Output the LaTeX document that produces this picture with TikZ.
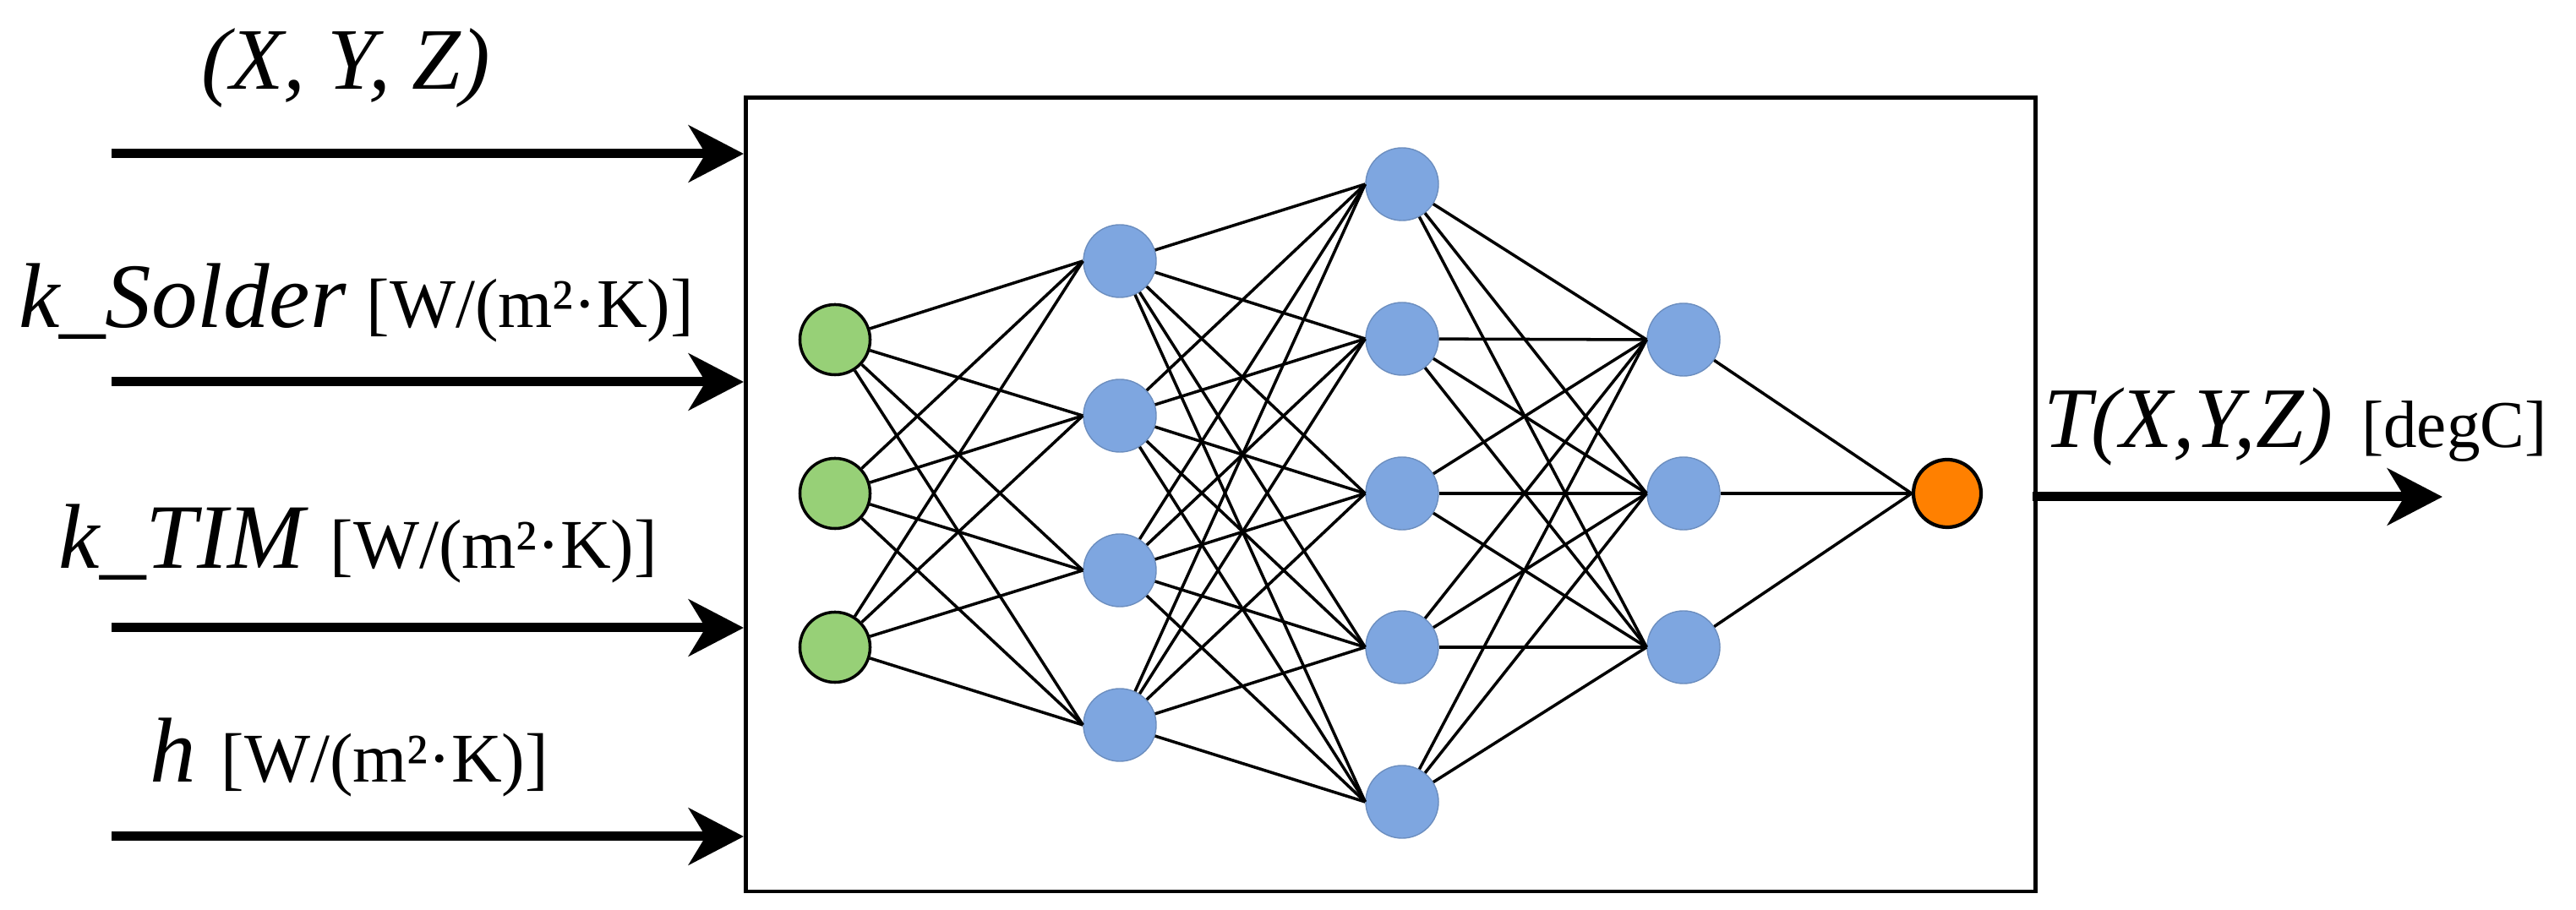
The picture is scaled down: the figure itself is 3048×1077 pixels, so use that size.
\documentclass[tikz,border=0pt]{standalone}
\usepackage{fontspec}
\setmainfont{Liberation Serif}
\usetikzlibrary{arrows.meta}
\definecolor{bluefill}{HTML}{7EA6E0}
\definecolor{bluedraw}{HTML}{6C8EBF}
\definecolor{greenfill}{HTML}{97D077}
\definecolor{orangefill}{HTML}{FF8000}
\newcommand{\bigit}{\fontsize{31pt}{31pt}\selectfont\itshape}
\newcommand{\unitfont}{\fontsize{23.5pt}{24pt}\selectfont\upshape}
\begin{document}
\begin{tikzpicture}[x=0.01cm,y=-0.01cm,
  inarrow/.style={line width=0.11cm,-{Stealth[length=0.65cm,width=0.67cm,inset=0.2cm]}},
  bluenode/.style={circle,fill=bluefill,draw=bluedraw,line width=0.4pt,minimum size=0.86cm,inner sep=0},
  greennode/.style={circle,fill=greenfill,draw=black,line width=1pt,minimum size=0.83cm,inner sep=0},
  outnode/.style={circle,fill=orangefill,draw=black,line width=1.2pt,minimum size=0.80cm,inner sep=0},
  link/.style={line width=1pt,black},
  lbl/.style={anchor=base west,inner sep=0,outer sep=0}]
\useasboundingbox (0,0) rectangle (3048,1077);
% box
\node[draw=black,line width=1.4pt,inner sep=0,minimum width=15.25cm,minimum height=9.39cm,anchor=north west] (box) at (880,113) {};
% arrow end coordinates
\coordinate (s1) at (132,182); \coordinate (e1) at (880,182);
\coordinate (s2) at (132,452); \coordinate (e2) at (880,452);
\coordinate (s3) at (132,743); \coordinate (e3) at (880,743);
\coordinate (s4) at (132,990); \coordinate (e4) at (880,990);
\coordinate (os) at (2405,588); \coordinate (oe) at (2890,588);
\draw[inarrow] (s1) -- (e1);
\draw[inarrow] (s2) -- (e2);
\draw[inarrow] (s3) -- (e3);
\draw[inarrow] (s4) -- (e4);
\draw[inarrow] (os) -- (oe);
% labels
\node[lbl] (t1) at (238,106) {\fontsize{29.5pt}{30pt}\selectfont\itshape (X, Y, Z)};
\node[lbl] (t2) at (22,388) {{\bigit k\_Solder}\hspace{0.24cm}{\unitfont [W/(m²·K)]}};
\node[lbl] (t3) at (70,673) {{\bigit k\_TIM}\hspace{0.30cm}{\unitfont [W/(m²·K)]}};
\node[lbl] (t4) at (177,926) {{\bigit h}\hspace{0.30cm}{\unitfont [W/(m²·K)]}};
\node[lbl] (t5) at (2418,530) {{\fontsize{29pt}{29pt}\selectfont\itshape T(X,Y,Z)}\hspace{0.34cm}{\fontsize{22.5pt}{23pt}\selectfont [degC]}};
% nodes
\node[greennode] (a1) at (988,402) {};
\node[greennode] (a2) at (988,584) {};
\node[greennode] (a3) at (988,766) {};
\node[bluenode] (b1) at (1325,309) {};
\node[bluenode] (b2) at (1325,492) {};
\node[bluenode] (b3) at (1325,675) {};
\node[bluenode] (b4) at (1325,858) {};
\node[bluenode] (c1) at (1659,218) {};
\node[bluenode] (c2) at (1659,401) {};
\node[bluenode] (c3) at (1659,584) {};
\node[bluenode] (c4) at (1659,766) {};
\node[bluenode] (c5) at (1659,949) {};
\node[bluenode] (d1) at (1992,402) {};
\node[bluenode] (d2) at (1992,584) {};
\node[bluenode] (d3) at (1992,766) {};
\node[outnode] (o1) at (2304,584) {};
% links
\foreach \i in {a1,a2,a3}{\foreach \j in {b1,b2,b3,b4}{\draw[link] (\i) -- (\j.west);}}
\foreach \i in {b1,b2,b3,b4}{\foreach \j in {c1,c2,c3,c4,c5}{\draw[link] (\i) -- (\j.west);}}
\foreach \i in {c1,c2,c3,c4,c5}{\foreach \j in {d1,d2,d3}{\draw[link] (\i) -- (\j.west);}}
\foreach \i in {d1,d2,d3}{\draw[link] (\i) -- (o1.west);}
\end{tikzpicture}
\end{document}
